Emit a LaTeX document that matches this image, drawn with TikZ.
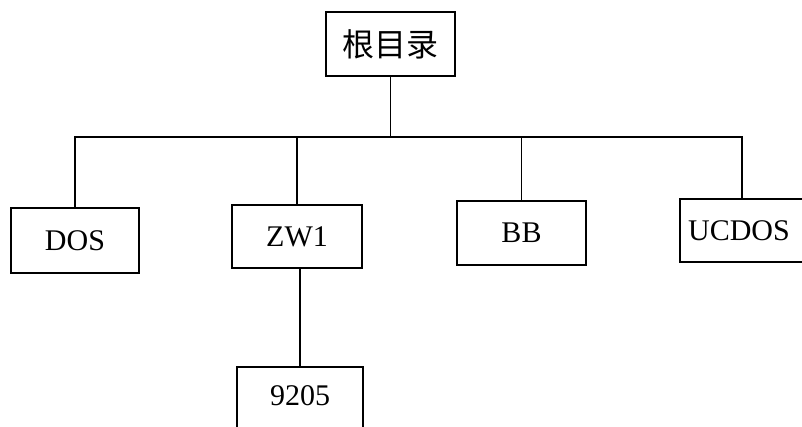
\documentclass[tikz,border=0pt]{standalone}
\usepackage{fontspec}
\setmainfont{Liberation Serif}
\newfontfamily\cjk{Noto Sans CJK SC}
\begin{document}
\begin{tikzpicture}[x=1pt,y=-1pt,
  box/.style={draw,line width=1.5pt,inner sep=0pt,font=\fontsize{30}{32}\selectfont},
  conn/.style={line width=1.5pt}]
\useasboundingbox (0,0) rectangle (802,427);
\clip (0,0) rectangle (802,427);
\node[box,minimum width=129pt,minimum height=64pt,font=\cjk\fontsize{32}{34}\selectfont] (root) at (390.5,44) {根目录};
\node[box,minimum width=128pt,minimum height=65pt] (dos) at (75,240.5) {DOS};
\node[box,minimum width=130pt,minimum height=63pt] (zw1) at (297,236.5) {ZW1};
\node[box,minimum width=129pt,minimum height=64pt] (bb) at (521.5,233) {BB};
\node[box,minimum width=124pt,minimum height=63pt] (ucdos) at (742,230.5) {\makebox[0pt]{\hspace*{-6pt}UCDOS}};
\node[box,minimum width=126pt,minimum height=68pt,anchor=north] (n9205) at (300,366) {\raisebox{10pt}{9205}};
\coordinate (bus) at (391,137);
\draw[conn] (root.south) -- (root.south |- bus);
\draw[conn] (dos.north) |- (bus) -| (ucdos.north);
\draw[conn] (zw1.north) -- (zw1.north |- bus);
\draw[conn] (bb.north) -- (bb.north |- bus);
\draw[conn] (zw1.south -| n9205.north) -- (n9205.north);
\end{tikzpicture}
\end{document}
